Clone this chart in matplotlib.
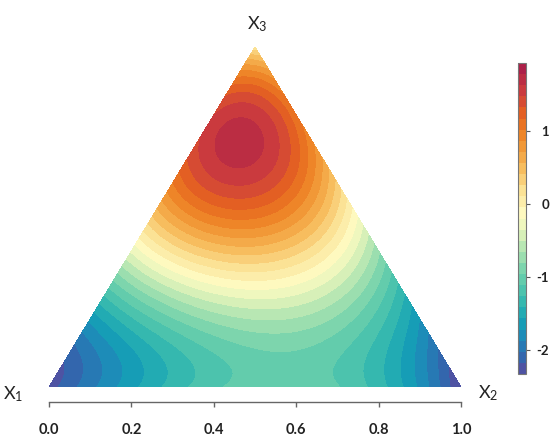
import numpy as np
import matplotlib
matplotlib.use("Agg")
import matplotlib.pyplot as plt
import matplotlib.tri as mtri
from matplotlib.colors import LinearSegmentedColormap, Normalize

plt.rcParams['font.family'] = ['Lato', 'DejaVu Sans']

# ---- data: surface values read on a ternary grid (step 0.1) ----
# each row is a fixed X3 level, values for X2 = 0.0, 0.1, ... (1 - X3)
row_x3_00 = [-2.30, -1.85, -1.60, -1.38, -1.20, -1.08, -1.05, -1.10, -1.40, -1.75, -2.30]
row_x3_01 = [-2.10, -1.75, -1.45, -1.25, -0.95, -0.88, -0.92, -1.20, -1.50, -2.15]
row_x3_02 = [-1.72, -1.35, -1.05, -0.75, -0.51, -0.60, -0.85, -1.25, -1.80]
row_x3_03 = [-0.95, -0.55, -0.30, -0.17, -0.17, -0.35, -0.68, -1.20]
row_x3_04 = [-0.30, 0.00, 0.28, 0.33, 0.18, -0.15, -0.72]
row_x3_05 = [0.30, 0.82, 1.08, 0.90, 0.40, -0.18]
row_x3_06 = [1.00, 1.65, 1.66, 1.08, 0.38]
row_x3_07 = [1.45, 1.93, 1.62, 0.85]
row_x3_08 = [1.36, 1.48, 0.95]
row_x3_09 = [0.92, 0.78]
row_x3_10 = [0.30]
rows = [row_x3_00, row_x3_01, row_x3_02, row_x3_03, row_x3_04, row_x3_05,
        row_x3_06, row_x3_07, row_x3_08, row_x3_09, row_x3_10]

z_min, z_max = -2.33, 1.93
cbar_ticks = [-2, -1, 0, 1]
cbar_ticklabels = ['-2', '-1', '0', '1']
x_ticks = [0.0, 0.2, 0.4, 0.6, 0.8, 1.0]
x_ticklabels = ['0.0', '0.2', '0.4', '0.6', '0.8', '1.0']

cmap_vals = [-2.33, -2.10, -1.85, -1.60, -1.30, -1.00, -0.65, -0.35, -0.15,
             0.20, 0.55, 0.90, 1.20, 1.50, 1.93]
cmap_cols = ['#5a4b9f', '#3168ae', '#1f86b8', '#14a2b6', '#3bbcae', '#6acfac',
             '#a9e2b0', '#e6f5bb', '#fefbc3', '#fbe092', '#f6b654', '#ef8b2a',
             '#e6641e', '#d0403c', '#a51a4a']

# ---- build triangular grid ----
H = np.sqrt(3) / 2
b2, b3, pz = [], [], []
for i, row in enumerate(rows):
    for j, v in enumerate(row):
        b2.append(j / 10)
        b3.append(i / 10)
        pz.append(v)
b2, b3, pz = np.array(b2), np.array(b3), np.array(pz)
px = b2 + b3 / 2
py = b3 * H


def design(u, v, deg=4):
    return np.column_stack([u ** a * v ** b
                            for a in range(deg + 1) for b in range(deg + 1 - a)])


# smooth response surface fitted to the read grid values
coef = np.linalg.lstsq(design(b2, b3), pz, rcond=None)[0]

tri = mtri.Triangulation(px, py)
tri_r = mtri.UniformTriRefiner(tri).refine_triangulation(subdiv=5)
r3 = tri_r.y / H
r2 = tri_r.x - r3 / 2
z_r = design(r2, r3) @ coef
z_r = np.clip(z_r, z_min + 1e-6, z_max - 1e-6)

cpos = [(v - z_min) / (z_max - z_min) for v in cmap_vals]
cmap = LinearSegmentedColormap.from_list('spec', list(zip(cpos, cmap_cols)))
levels = np.linspace(z_min, z_max, 29)

fig = plt.figure(figsize=(5.52, 4.37), dpi=100)
ax = fig.add_axes([49 / 552, 50 / 437, 412 / 552, 340 / 437])
cs = ax.tricontourf(tri_r, z_r, levels=levels, cmap=cmap,
                    norm=Normalize(z_min, z_max))
ax.set_xlim(0, 1)
ax.set_ylim(0, H)
for s in ['left', 'right', 'top']:
    ax.spines[s].set_visible(False)
ax.spines['bottom'].set_position(('outward', 10.8))
ax.spines['bottom'].set_color('#666666')
ax.spines['bottom'].set_linewidth(1.0)
ax.set_yticks([])
ax.set_xticks(x_ticks)
ax.set_xticklabels(x_ticklabels, fontsize=10.5, fontweight='bold', color='#222222')
ax.tick_params(axis='x', direction='out', length=3.6, width=1.0,
               color='#666666', pad=11.5)

cax = fig.add_axes([518 / 552, 63 / 437, 8 / 552, 311 / 437])
cb = fig.colorbar(cs, cax=cax, ticks=cbar_ticks)
cb.outline.set_edgecolor('#777777')
cb.outline.set_linewidth(0.8)
cax.set_yticklabels(cbar_ticklabels, fontsize=9.5, fontweight='bold',
                    color='#222222', ha='right')
cax.tick_params(axis='y', length=3, width=0.8, color='#555555', pad=13.5)

fig.text(3 / 552, 1 - 394 / 437, r'$\mathregular{X_1}$', ha='left',
         va='center', fontsize=13, color='#222222')
fig.text(478 / 552, 1 - 393 / 437, r'$\mathregular{X_2}$', ha='left',
         va='center', fontsize=13, color='#222222')
fig.text(247 / 552, 1 - 24 / 437, r'$\mathregular{X_3}$', ha='left',
         va='center', fontsize=13, color='#222222')

fig.savefig('out.png', dpi=100)
